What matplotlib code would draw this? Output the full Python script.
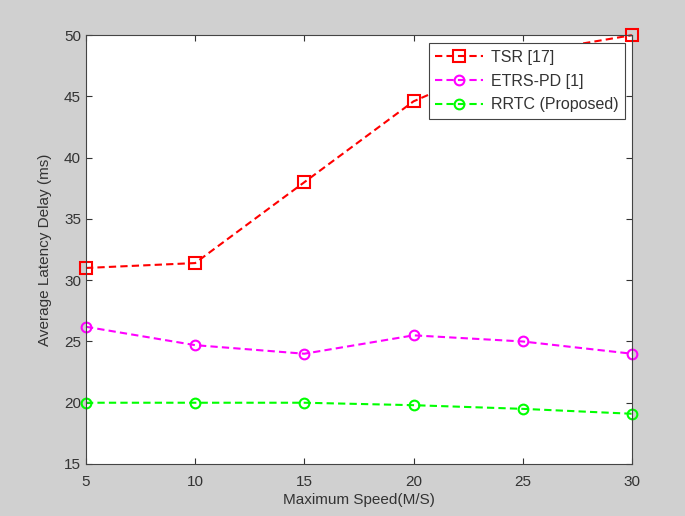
import matplotlib
matplotlib.use("Agg")
import matplotlib.pyplot as plt

speeds = [5, 10, 15, 20, 25, 30]
tsr = [31.0, 31.4, 38.0, 44.6, 48.5, 50.0]
etrs_pd = [26.2, 24.7, 24.0, 25.5, 25.0, 24.0]
rrtc = [20.0, 20.0, 20.0, 19.8, 19.5, 19.1]

series_labels = ["TSR [17]", "ETRS-PD [1]", "RRTC (Proposed)"]
x_ticks = [5, 10, 15, 20, 25, 30]
y_ticks = [15, 20, 25, 30, 35, 40, 45, 50]

plt.rcParams["font.family"] = ["Liberation Sans", "DejaVu Sans"]
plt.rcParams["text.color"] = "#333333"
plt.rcParams["axes.labelcolor"] = "#333333"
plt.rcParams["xtick.color"] = "#333333"
plt.rcParams["ytick.color"] = "#333333"

figure = plt.figure(figsize=(6.85, 5.16), dpi=100, facecolor="#d0d0d0")
axis = figure.add_axes([0.1255, 0.1008, 0.797, 0.831])

dash = (0, (3.5, 2))
axis.plot(speeds, tsr, color="#ff0000", linestyle=dash, linewidth=1.5,
          marker="s", markersize=8, markerfacecolor="none",
          markeredgewidth=1.5, label=series_labels[0], clip_on=False)
axis.plot(speeds, etrs_pd, color="#ff00ff", linestyle=dash, linewidth=1.5,
          marker="o", markersize=7, markerfacecolor="none",
          markeredgewidth=1.5, label=series_labels[1], clip_on=False)
axis.plot(speeds, rrtc, color="#00ff00", linestyle=dash, linewidth=1.5,
          marker="o", markersize=7, markerfacecolor="none",
          markeredgewidth=1.5, label=series_labels[2], clip_on=False)

axis.set_xlim(5, 30)
axis.set_ylim(15, 50)
axis.set_xticks(x_ticks)
axis.set_yticks(y_ticks)
axis.tick_params(direction="in", top=True, right=True, labelsize=11,
                 length=4, width=0.8)
axis.tick_params(axis="x", pad=8)
for spine in axis.spines.values():
    spine.set_color("#444444")
    spine.set_linewidth(0.8)

axis.set_xlabel("Maximum Speed(M/S)", fontsize=11, labelpad=3)
axis.set_ylabel("Average Latency Delay (ms)", fontsize=11, labelpad=9)

legend = axis.legend(loc="upper right", bbox_to_anchor=(0.987, 0.981),
                     fontsize=11.5, fancybox=False, framealpha=1,
                     edgecolor="#444444", handlelength=3.0,
                     handletextpad=0.5, borderaxespad=0, labelspacing=0.55,
                     borderpad=0.4)
legend.get_frame().set_linewidth(0.8)

plt.savefig("out.png", dpi=100, facecolor=figure.get_facecolor())
